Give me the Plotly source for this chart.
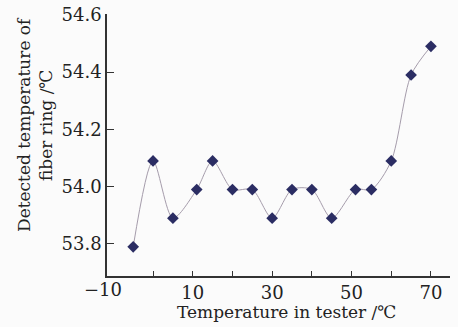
import plotly.graph_objects as go

tester_temp = [-5, 0, 5, 11, 15, 20, 25, 30, 35, 40, 45, 51, 55, 60, 65, 70]
fiber_temp = [53.79, 54.09, 53.89, 53.99, 54.09, 53.99, 53.99, 53.89, 53.99, 53.99,
               53.89, 53.99, 53.99, 54.09, 54.39, 54.49]

x_tickvals = [0, 10, 20, 30, 40, 50, 60, 70]
x_ticktext = ["", "10", "", "30", "", "50", "", "70"]
y_tickvals = [53.8, 54.0, 54.2, 54.4, 54.6]
y_ticktext = ["53.8", "54.0", "54.2", "54.4", "54.6"]

font_family = "DejaVu Serif"
txt_color = "#222222"

fig = go.Figure()
fig.add_trace(go.Scatter(
    x=tester_temp, y=fiber_temp, mode="lines+markers",
    line=dict(shape="spline", smoothing=0.8, color="#a59cab", width=1),
    marker=dict(symbol="diamond", size=9, color="#2b2d63"),
    showlegend=False,
))

fig.update_layout(
    width=458, height=327,
    margin=dict(l=107, r=8, t=14, b=51),
    paper_bgcolor="#fbfbfb", plot_bgcolor="#fbfbfb",
    font=dict(family=font_family, size=18, color=txt_color),
    xaxis=dict(
        range=[-11.6, 74.8], tickvals=x_tickvals, ticktext=x_ticktext,
        ticks="inside", ticklen=5, tickwidth=1.3, tickcolor="#333333",
        showline=True, linecolor="#333333", linewidth=1.5,
        showgrid=False, zeroline=False, automargin=False,
        tickfont=dict(size=18),
    ),
    yaxis=dict(
        range=[53.688, 54.603], tickvals=y_tickvals, ticktext=y_ticktext,
        ticks="inside", ticklen=7, tickwidth=1.3, tickcolor="#333333",
        showline=True, linecolor="#333333", linewidth=1.5,
        showgrid=False, zeroline=False, automargin=False,
        ticklabeloverflow="allow",
        tickfont=dict(size=18),
    ),
)

fig.add_annotation(
    x=-11.6, y=0, xref="x", yref="paper", yanchor="top",
    text="−10", showarrow=False, xshift=-4, yshift=-1,
    font=dict(family=font_family, size=18, color=txt_color),
)
# x-axis title
fig.add_annotation(
    x=(286 - 107) / 343, y=(276 - 312) / 262, xref="paper", yref="paper",
    text="Temperature in tester /℃", showarrow=False,
    xanchor="center", yanchor="middle",
    font=dict(family=font_family, size=17, color=txt_color),
)
# y-axis title
fig.add_annotation(
    x=(35 - 107) / 343, y=(276 - 125) / 262, xref="paper", yref="paper",
    text="Detected temperature of<br>fiber ring /℃", textangle=-90,
    showarrow=False, xanchor="center", yanchor="middle",
    font=dict(family=font_family, size=17, color=txt_color),
)

fig.write_html("out.html", config={"displayModeBar": False},
               post_script="document.body.style.margin='0';")
